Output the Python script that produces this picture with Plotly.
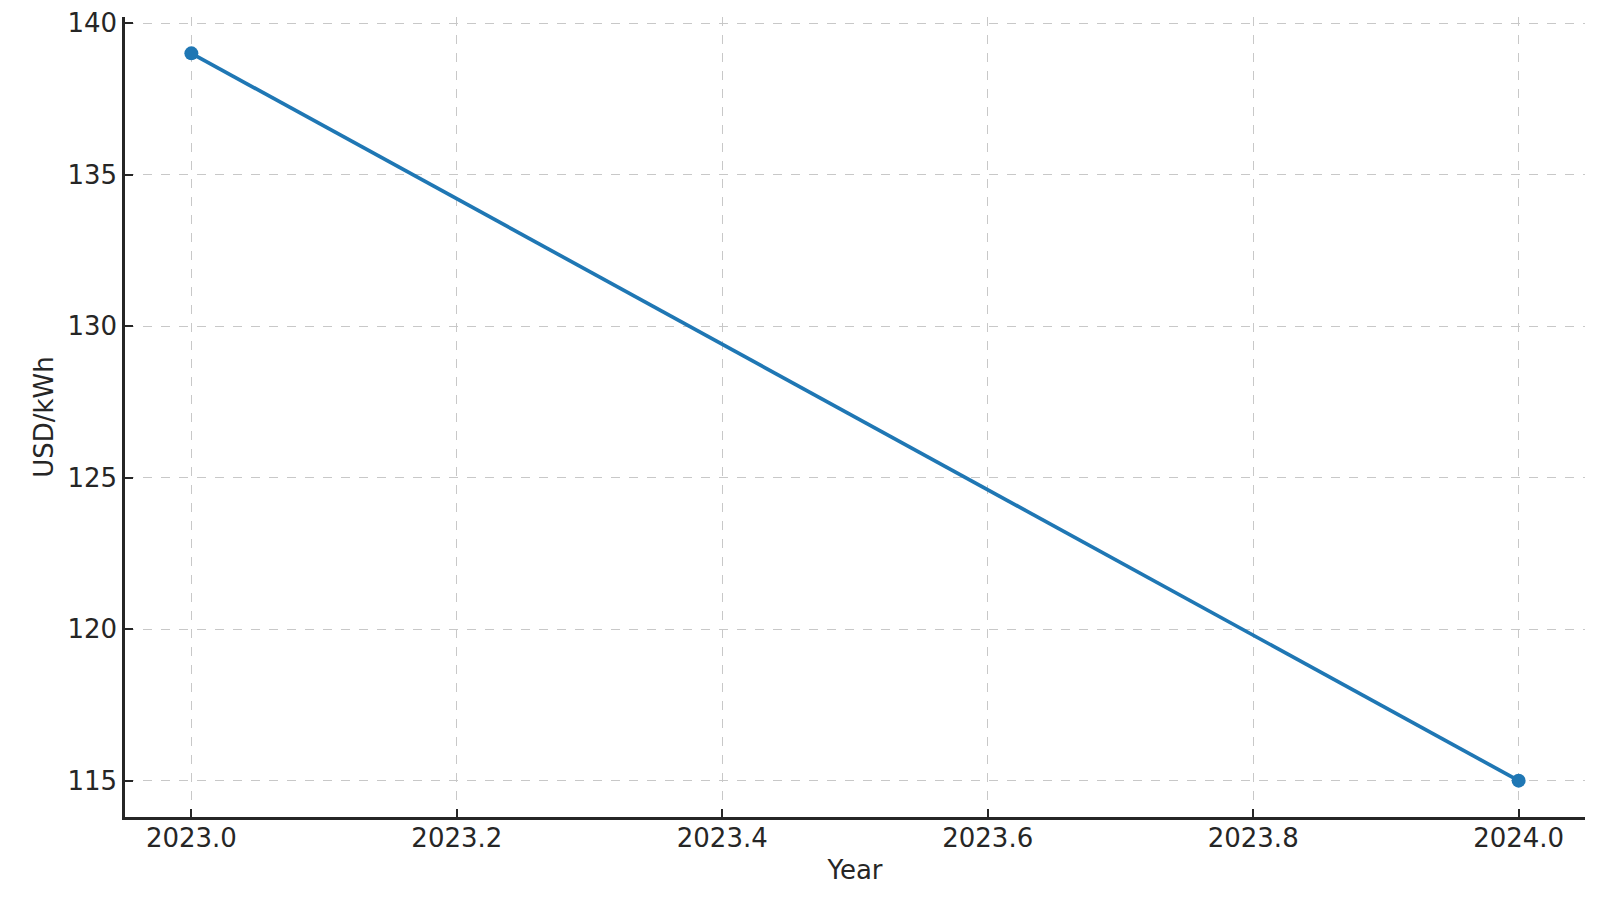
import plotly.graph_objects as go

years = [2023.0, 2024.0]
usd_per_kwh = [139, 115]

x_range = [2022.95, 2024.05]
y_range = [113.8, 140.2]

fig = go.Figure()
fig.add_trace(go.Scatter(
    x=years, y=usd_per_kwh, mode="lines+markers",
    line=dict(color="#1f77b4", width=3.7),
    marker=dict(color="#1f77b4", size=14),
    showlegend=False,
))

font = dict(family="DejaVu Sans", size=26, color="#262626")
axis_common = dict(
    showline=True, linecolor="#262626", linewidth=2.5, mirror=False,
    ticks="inside", ticklen=8, tickwidth=2, tickcolor="#262626",
    showgrid=True, gridcolor="#c8c8c8", gridwidth=1.3, griddash="dash",
    zeroline=False, tickfont=font, title_font=font,
    ticklabeloverflow="allow", automargin=False,
)
fig.update_xaxes(range=x_range, tick0=2023.0, dtick=0.2, tickformat=".1f",
                 title_text="Year", title_standoff=9, ticklabelstandoff=-4,
                 **axis_common)
fig.update_yaxes(range=y_range, tick0=115, dtick=5,
                 title_text="USD/kWh", title_standoff=7, **axis_common)

fig.update_layout(
    width=1600, height=903,
    margin=dict(l=117, r=23, t=9, b=94),
    paper_bgcolor="white", plot_bgcolor="white",
    font=font,
)
fig.write_html("out.html")
